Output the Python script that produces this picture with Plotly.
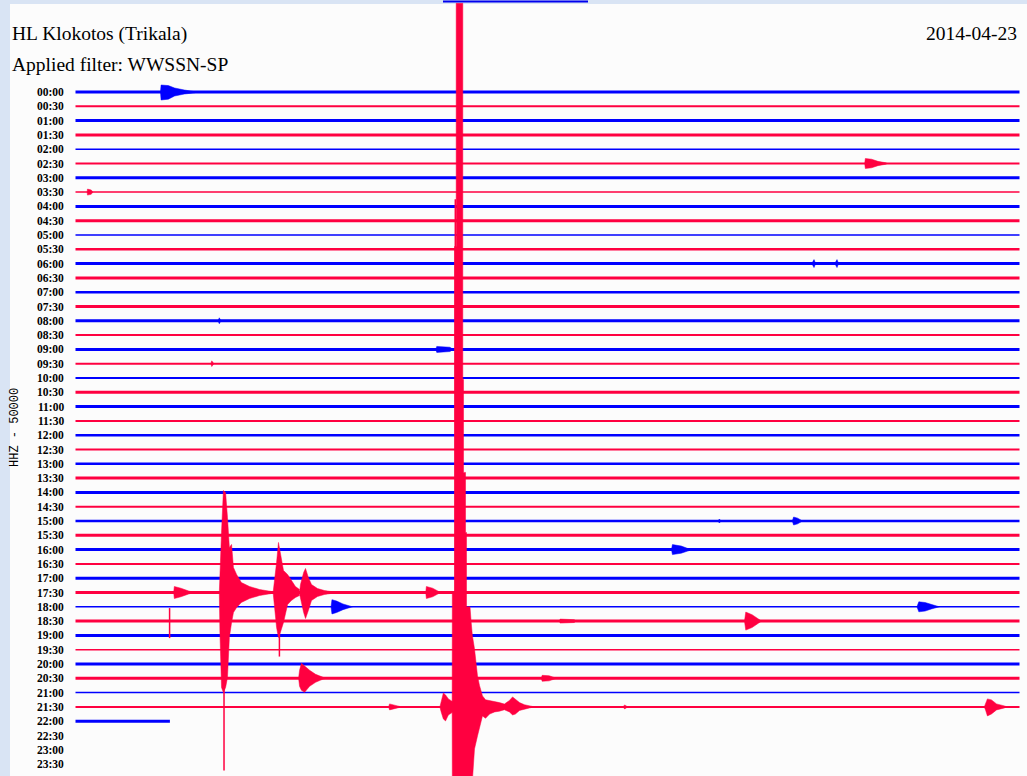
import plotly.graph_objects as go

# ---------------- data ----------------
STATION = "HL Klokotos (Trikala)"
FILTER_TEXT = "Applied filter: WWSSN-SP"
DATE_TEXT = "2014-04-23"
CHANNEL_TEXT = "HHZ - 50000"

ROW_LABELS = ["00:00", "00:30", "01:00", "01:30", "02:00", "02:30", "03:00", "03:30",
              "04:00", "04:30", "05:00", "05:30", "06:00", "06:30", "07:00", "07:30",
              "08:00", "08:30", "09:00", "09:30", "10:00", "10:30", "11:00", "11:30",
              "12:00", "12:30", "13:00", "13:30", "14:00", "14:30", "15:00", "15:30",
              "16:00", "16:30", "17:00", "17:30", "18:00", "18:30", "19:00", "19:30",
              "20:00", "20:30", "21:00", "21:30", "22:00", "22:30", "23:00", "23:30"]

ROW_MINUTES = 30.0          # each trace line spans 30 minutes
RECORDED_ROWS = 45          # rows 00:00 .. 22:00 contain data
LAST_ROW_END = 3.0          # minutes recorded in the 22:00 row

# main earthquake (row 21:30), minutes in row, amplitude in trace spacings
QUAKE_ROW = 43
QUAKE_T = [11.58, 11.62, 11.69, 11.76, 11.85, 11.95, 11.97, 11.975, 12.044, 12.044, 12.098,
           12.098, 12.308, 12.308, 12.331, 12.331, 12.395, 12.395, 12.426, 12.426, 12.537,
           12.575, 12.612, 12.68, 12.775, 12.839, 12.934, 13.03, 13.16, 13.32, 13.47, 13.63,
           13.79, 13.89, 13.98, 14.11, 14.27, 14.43, 14.59]
QUAKE_UP = [0.0, 0.35, 0.98, 0.84, 0.56, 0.42, 0.4, 7.97, 7.97, 32.2, 32.2,
            49.2, 49.2, 22.9, 22.9, 16.4, 16.4, 12.2, 12.2, 7.0, 7.0,
            5.9, 5.0, 4.06, 2.17, 1.5, 0.77, 0.5, 0.45, 0.35, 0.3, 0.2,
            0.45, 0.7, 0.55, 0.3, 0.15, 0.07, 0.0]
QUAKE_DN = [0.0, 0.35, 0.84, 0.98, 0.56, 0.42, 0.4, 5.2, 5.2, 5.2, 5.2,
            5.2, 5.2, 5.2, 5.2, 5.2, 5.2, 5.2, 5.2, 5.2, 5.2,
            5.2, 5.2, 2.94, 2.03, 1.4, 0.63, 0.8, 0.5, 0.35, 0.3, 0.2,
            0.35, 0.56, 0.5, 0.25, 0.15, 0.07, 0.0]

# other events: row index, times (min), upward and downward envelope (trace spacings)
EVENT_ROWS = [0, 5, 7, 12, 12, 16, 18, 19, 30, 30, 32, 35, 35, 35, 35, 35,
              36, 36, 37, 37, 41, 41, 43, 43, 43]
EVENT_T = [
    [2.70, 2.72, 2.95, 3.15, 3.46, 3.80, 3.85],
    [25.08, 25.10, 25.30, 25.50, 25.75, 25.80],
    [0.37, 0.38, 0.50, 0.55],
    [23.40, 23.47, 23.52],
    [24.13, 24.20, 24.25],
    [4.53, 4.57, 4.62],
    [11.45, 11.48, 11.90, 12.00],
    [4.30, 4.33, 4.40],
    [20.42, 20.46, 20.52],
    [22.78, 22.82, 22.95, 23.10],
    [18.94, 18.97, 19.25, 19.50, 19.55],
    [3.12, 3.14, 3.35, 3.60, 3.80],
    [4.57, 4.59, 4.64, 4.70, 4.77, 4.83, 4.89, 4.96, 5.02, 5.12, 5.27, 5.53, 5.85, 6.23, 6.35],
    [6.28, 6.32, 6.39, 6.45, 6.51, 6.61, 6.74, 6.86, 6.99, 7.12],
    [7.13, 7.15, 7.25, 7.31, 7.40, 7.50, 7.69, 7.91, 8.17, 8.25],
    [11.13, 11.15, 11.35, 11.60],
    [8.12, 8.15, 8.30, 8.50, 8.80],
    [26.74, 26.80, 27.00, 27.20, 27.45],
    [21.26, 21.30, 21.50, 21.70, 21.80],
    [15.38, 15.40, 15.85, 15.90],
    [7.09, 7.12, 7.18, 7.28, 7.44, 7.63, 7.85, 7.95],
    [14.80, 14.83, 15.05, 15.28],
    [9.95, 9.98, 10.36],
    [17.40, 17.45, 17.55],
    [28.88, 28.92, 28.98, 29.11, 29.27, 29.52, 29.60],
]
EVENT_UP = [
    [0, 0.49, 0.45, 0.28, 0.14, 0.05, 0],
    [0, 0.35, 0.30, 0.15, 0.05, 0],
    [0, 0.21, 0.15, 0],
    [0, 0.28, 0],
    [0, 0.28, 0],
    [0, 0.21, 0],
    [0, 0.21, 0.15, 0],
    [0, 0.20, 0],
    [0, 0.14, 0],
    [0, 0.28, 0.2, 0],
    [0, 0.35, 0.25, 0.07, 0],
    [0, 0.42, 0.30, 0.10, 0],
    [0, 1.40, 4.20, 7.13, 6.99, 5.24, 3.15, 3.36, 1.75, 1.26, 0.70, 0.42, 0.21, 0.07, 0],
    [0, 0.70, 2.10, 3.50, 2.80, 1.54, 1.26, 0.84, 0.42, 0.21],
    [0.2, 0.56, 1.40, 1.68, 1.05, 0.56, 0.28, 0.14, 0.05, 0],
    [0, 0.42, 0.30, 0],
    [0, 0.50, 0.40, 0.20, 0],
    [0, 0.35, 0.30, 0.15, 0],
    [0, 0.63, 0.45, 0.15, 0],
    [0, 0.14, 0.10, 0],
    [0, 0.56, 1.05, 0.84, 0.56, 0.28, 0.07, 0],
    [0, 0.21, 0.18, 0],
    [0, 0.21, 0],
    [0, 0.14, 0],
    [0, 0.21, 0.56, 0.49, 0.21, 0.07, 0],
]
EVENT_DN = [
    [0, 0.56, 0.50, 0.28, 0.14, 0.05, 0],
    [0, 0.35, 0.30, 0.15, 0.05, 0],
    [0, 0.21, 0.15, 0],
    [0, 0.28, 0],
    [0, 0.28, 0],
    [0, 0.21, 0],
    [0, 0.21, 0.15, 0],
    [0, 0.20, 0],
    [0, 0.14, 0],
    [0, 0.28, 0.2, 0],
    [0, 0.35, 0.25, 0.07, 0],
    [0, 0.42, 0.30, 0.10, 0],
    [0, 2.80, 6.64, 6.99, 6.64, 5.94, 3.15, 2.10, 1.40, 1.05, 0.70, 0.42, 0.21, 0.07, 0],
    [0, 0.84, 2.45, 3.15, 2.80, 2.10, 0.84, 0.56, 0.35, 0.21],
    [0.2, 0.56, 1.40, 1.82, 1.26, 0.56, 0.28, 0.14, 0.05, 0],
    [0, 0.42, 0.30, 0],
    [0, 0.50, 0.40, 0.20, 0],
    [0, 0.35, 0.30, 0.15, 0],
    [0, 0.63, 0.45, 0.15, 0],
    [0, 0.14, 0.10, 0],
    [0, 0.56, 0.84, 0.98, 0.56, 0.28, 0.07, 0],
    [0, 0.21, 0.18, 0],
    [0, 0.21, 0],
    [0, 0.14, 0],
    [0, 0.21, 0.63, 0.49, 0.21, 0.07, 0],
]

# single large peaks (row, minute, upward, downward)
SPIKE_ROWS = [35, 35, 37, 43]
SPIKE_T = [4.72, 6.48, 2.99, 12.07]
SPIKE_UP = [0.0, 0.0, 0.91, 35.5]
SPIKE_DN = [12.45, 4.48, 1.19, 0.0]

# ---------------- style ----------------
BLUE = "#0000ff"
RED = "#ff0040"
ROW_WIDTHS = [3, 2, 3, 3, 1.5, 2, 3, 1.5, 3, 3, 1.5, 2.5, 3, 3, 2.5, 3,
              3, 2, 3, 2, 2, 3, 3, 2, 2.5, 2, 2.5, 3, 3, 2, 2.5, 3,
              3, 2, 3, 3, 1.5, 3, 3, 1.5, 3, 3, 1.5, 2, 3]


def row_color(i):
    return BLUE if i % 2 == 0 else RED


W, H = 1027, 776
X0_PX, PX_PER_MIN = 75.5, 31.467
Y0_PX, PX_PER_ROW = 92.0, 14.3

fig = go.Figure()

# baselines
for i in range(RECORDED_ROWS):
    end = LAST_ROW_END if i == RECORDED_ROWS - 1 else ROW_MINUTES
    fig.add_trace(go.Scatter(x=[0, end], y=[i, i], mode="lines",
                             line=dict(color=row_color(i), width=ROW_WIDTHS[i]),
                             hoverinfo="skip"))


def add_envelope(row, ts, ups, dns):
    xs = list(ts) + list(reversed(ts))
    ys = [row - u for u in ups] + [row + d for d in reversed(dns)]
    c = row_color(row)
    fig.add_trace(go.Scatter(x=xs, y=ys, mode="lines", fill="toself", fillcolor=c,
                             line=dict(color=c, width=0.5), hoverinfo="skip"))


for r, ts, us, ds in zip(EVENT_ROWS, EVENT_T, EVENT_UP, EVENT_DN):
    add_envelope(r, ts, us, ds)

add_envelope(QUAKE_ROW, QUAKE_T, QUAKE_UP, QUAKE_DN)

for r, t, u, d in zip(SPIKE_ROWS, SPIKE_T, SPIKE_UP, SPIKE_DN):
    fig.add_trace(go.Scatter(x=[t, t], y=[r - u, r + d], mode="lines",
                             line=dict(color=row_color(r), width=1.5), hoverinfo="skip"))

# axis ranges mapped to the page pixels
x_lo = (0 - X0_PX) / PX_PER_MIN
x_hi = (W - X0_PX) / PX_PER_MIN
y_top = (0 - Y0_PX) / PX_PER_ROW
y_bot = (H - Y0_PX) / PX_PER_ROW

annotations = []
for i, lab in enumerate(ROW_LABELS):
    annotations.append(dict(x=66 / W, xref="paper", xanchor="right", y=i, yref="y",
                            yanchor="middle", text=lab, showarrow=False,
                            font=dict(family="Liberation Serif", size=11.5, color="black",
                                      weight="bold")))
annotations += [
    dict(x=10 / W, y=1 - 34 / H, xref="paper", yref="paper", xanchor="left", yanchor="middle",
         text=STATION, showarrow=False,
         font=dict(family="Liberation Serif", size=19.5, color="black")),
    dict(x=10 / W, y=1 - 64 / H, xref="paper", yref="paper", xanchor="left", yanchor="middle",
         text=FILTER_TEXT, showarrow=False,
         font=dict(family="Liberation Serif", size=19.5, color="black")),
    dict(x=1019 / W, y=1 - 34 / H, xref="paper", yref="paper", xanchor="right", yanchor="middle",
         text=DATE_TEXT, showarrow=False,
         font=dict(family="Liberation Serif", size=19.5, color="black")),
    dict(x=15 / W, y=1 - 428 / H, xref="paper", yref="paper", xanchor="center", yanchor="middle",
         text=CHANNEL_TEXT, textangle=-90, showarrow=False,
         font=dict(family="Liberation Mono", size=12, color="black")),
]

fig.update_layout(
    width=W, height=H,
    margin=dict(l=0, r=0, t=0, b=0, pad=0),
    paper_bgcolor="#d9e4f4", plot_bgcolor="rgba(0,0,0,0)",
    showlegend=False,
    xaxis=dict(range=[x_lo, x_hi], visible=False, fixedrange=True),
    yaxis=dict(range=[y_bot, y_top], visible=False, fixedrange=True),
    annotations=annotations,
    shapes=[
        dict(type="rect", xref="paper", yref="paper", x0=10 / W, x1=1, y0=0, y1=1 - 4 / H,
             fillcolor="#fcfcfc", line=dict(width=0), layer="below"),
        dict(type="line", xref="paper", yref="paper", x0=443 / W, x1=588 / W,
             y0=1 - 1.5 / H, y1=1 - 1.5 / H, line=dict(color="#0000ee", width=2), layer="above"),
    ],
)

fig.write_html("out.html", config={"displayModeBar": False},
               post_script="document.body.style.margin='0px';")
